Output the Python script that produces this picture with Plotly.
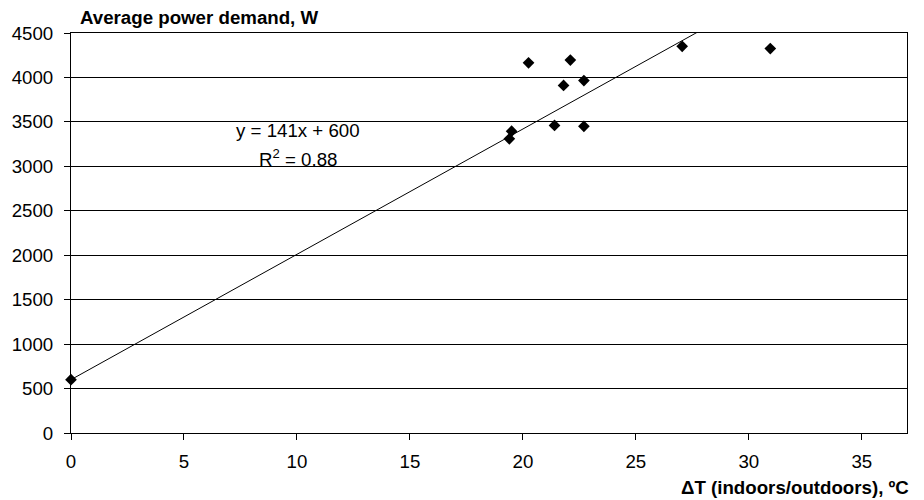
import plotly.graph_objects as go

# measured points: temperature difference vs average power demand
delta_t = [0, 19.4, 19.5, 20.25, 21.4, 21.8, 22.1, 22.7, 22.7, 27.05, 30.95]
power_w = [600, 3310, 3395, 4165, 3460, 3910, 4195, 3965, 3450, 4350, 4325]

# linear fit shown on the chart
slope = 141
intercept = 600
fit_x = [0, 37]
fit_y = [slope * x + intercept for x in fit_x]

x_ticks = [0, 5, 10, 15, 20, 25, 30, 35]
y_ticks = [0, 500, 1000, 1500, 2000, 2500, 3000, 3500, 4000, 4500]

font = "Liberation Sans, Arial, sans-serif"
fs = 18.7

fig = go.Figure()
fig.add_trace(go.Scatter(x=fit_x, y=fit_y, mode="lines",
                         line=dict(color="black", width=1), hoverinfo="skip"))
fig.add_trace(go.Scatter(x=delta_t, y=power_w, mode="markers", cliponaxis=False,
                         marker=dict(symbol="diamond", size=9, color="black")))

fig.update_layout(
    width=924, height=500,
    margin=dict(l=66, r=17, t=32.5, b=67),
    paper_bgcolor="white", plot_bgcolor="white",
    showlegend=False,
    font=dict(family=font, size=fs, color="black"),
    xaxis=dict(range=[0, 37], tickvals=x_ticks, showgrid=False, zeroline=False,
               showline=True, linecolor="black", linewidth=1, mirror=True,
               ticks="outside", ticklen=6, tickcolor="black", ticklabelstandoff=6,
               tickfont=dict(family=font, size=fs, color="black")),
    yaxis=dict(range=[0, 4500], tickvals=y_ticks, showgrid=True,
               gridcolor="black", gridwidth=1, zeroline=False,
               showline=True, linecolor="black", linewidth=1, mirror=True,
               ticks="outside", ticklen=6, tickcolor="black", ticklabelstandoff=7,
               tickfont=dict(family=font, size=fs, color="black")),
    annotations=[
        dict(text="<b>Average power demand, W</b>", xref="paper", yref="paper",
             x=0.008, y=1, xanchor="left", yanchor="middle", yshift=15.5,
             showarrow=False, font=dict(family=font, size=fs, color="black")),
        dict(text="<b>ΔT (indoors/outdoors), ºC</b>", xref="paper", yref="paper",
             x=1, y=0, xanchor="right", yanchor="middle", xshift=4, yshift=-54,
             showarrow=False, font=dict(family=font, size=fs, color="black")),
        dict(text="y = 141x + 600", x=10.04, y=3404, xanchor="center", yanchor="middle",
             showarrow=False, font=dict(family=font, size=fs, color="black")),
        dict(text="R<sup>2</sup> = 0.88", x=10.04, y=3090, xanchor="center", yanchor="middle",
             showarrow=False, font=dict(family=font, size=fs, color="black")),
    ],
)

# drop the default page margin so the figure sits at the window's corner
fig.write_html("out.html", config={"displayModeBar": False},
               post_script="document.body.style.margin='0';")
